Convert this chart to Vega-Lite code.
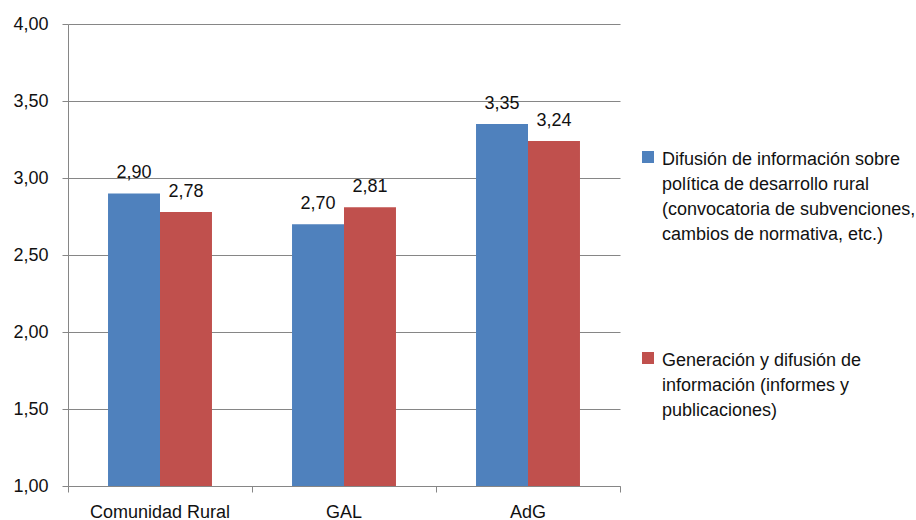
{
  "$schema": "https://vega.github.io/schema/vega-lite/v6.json",
  "autosize": "none",
  "width": 552,
  "height": 462,
  "padding": {"left": 68, "top": 24, "right": 296, "bottom": 34},
  "background": "white",
  "config": {
    "locale": {"number": {"decimal": ",", "thousands": ".", "grouping": [3], "currency": ["", " €"]}},
    "font": "Liberation Sans",
    "view": {"stroke": null},
    "style": {"guide-label": {"lineHeight": 25, "dy": -6}}
  },
  "data": {
    "values": [
      {"cat": "Comunidad Rural", "serie": "A", "value": 2.90},
      {"cat": "Comunidad Rural", "serie": "B", "value": 2.78},
      {"cat": "GAL", "serie": "A", "value": 2.70},
      {"cat": "GAL", "serie": "B", "value": 2.81},
      {"cat": "AdG", "serie": "A", "value": 3.35},
      {"cat": "AdG", "serie": "B", "value": 3.24}
    ]
  },
  "encoding": {
    "x": {
      "field": "cat", "type": "nominal", "sort": null,
      "scale": {"paddingInner": 0, "paddingOuter": 0},
      "axis": {
        "title": null, "labelAngle": 0, "labelFontSize": 18, "labelColor": "#111",
        "labelFont": "Liberation Sans", "labelPadding": 17,
        "domainColor": "#868686", "tickColor": "#868686", "tickSize": 6,
        "bandPosition": 1, "tickExtra": true
      }
    },
    "xOffset": {
      "field": "serie", "type": "nominal",
      "scale": {"domain": ["A", "B"], "paddingInner": 0, "paddingOuter": 0.77}
    },
    "y": {
      "field": "value", "type": "quantitative",
      "scale": {"domain": [1, 4], "nice": false, "zero": false},
      "axis": {
        "title": null, "values": [1, 1.5, 2, 2.5, 3, 3.5, 4], "format": ".2f",
        "labelFontSize": 18, "labelColor": "#111", "labelFont": "Liberation Sans",
        "labelPadding": 14, "labelOffset": 6, "tickSize": 6, "tickColor": "#868686",
        "domainColor": "#868686", "gridColor": "#868686", "grid": true
      }
    }
  },
  "layer": [
    {
      "mark": {"type": "bar", "clip": false},
      "encoding": {
        "y2": {"datum": 1},
        "color": {
          "field": "serie", "type": "nominal",
          "scale": {"domain": ["A", "B"], "range": ["#4F81BD", "#C0504D"]},
          "legend": {
            "title": null, "orient": "none", "legendX": 571, "legendY": 124,
            "symbolType": "square", "symbolSize": 144, "symbolStrokeWidth": 0,
            "labelFontSize": 18, "labelFont": "Liberation Sans", "labelColor": "#111",
            "labelLimit": 400, "labelOffset": 5, "rowPadding": 105, "labelBaseline": "top",
            "labelExpr": "datum.label == 'A' ? ['Difusión de información sobre', 'política de desarrollo rural', '(convocatoria de subvenciones,', 'cambios de normativa, etc.)'] : ['Generación y difusión de', 'información (informes y', 'publicaciones)']"
          }
        }
      }
    },
    {
      "mark": {"type": "text", "baseline": "alphabetic", "dy": -15, "fontSize": 18, "color": "#111", "font": "Liberation Sans"},
      "encoding": {
        "text": {"field": "value", "type": "quantitative", "format": ".2f"}
      }
    }
  ]
}
